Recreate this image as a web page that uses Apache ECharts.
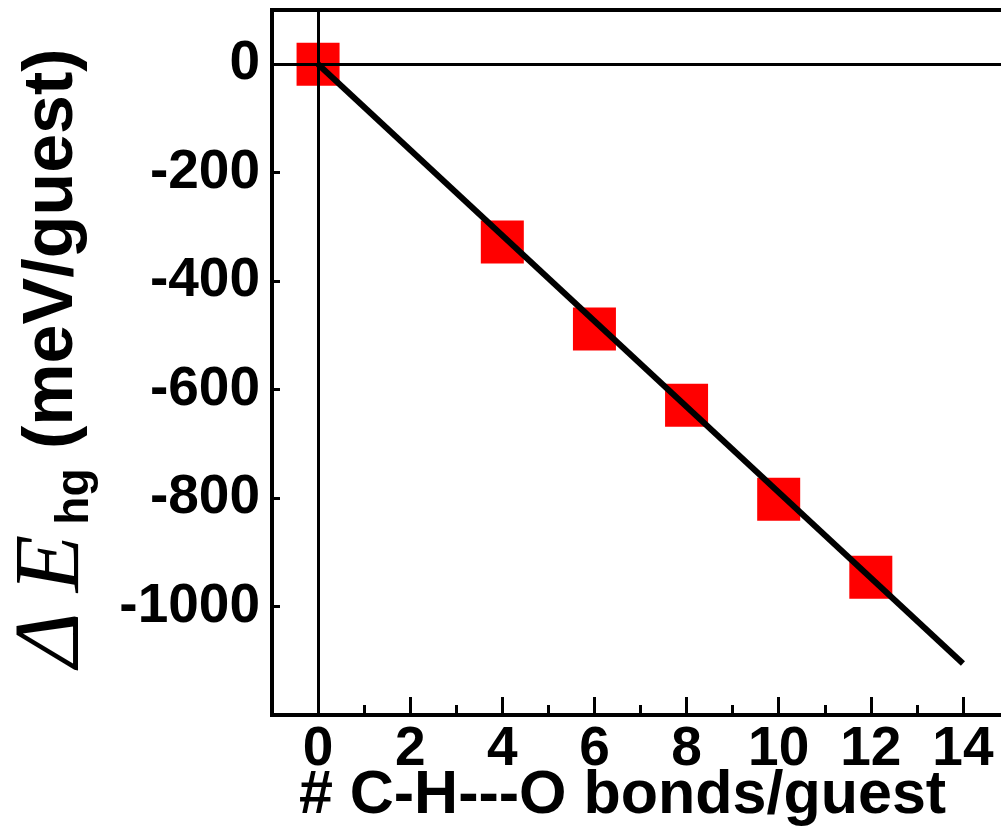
<!DOCTYPE html>
<html>
<head>
<meta charset="utf-8">
<title>ΔE_hg vs C-H---O bonds</title>
<script src="https://cdn.jsdelivr.net/npm/echarts@6/dist/echarts.min.js"></script>
<style>
html,body{margin:0;padding:0;overflow:hidden;background:#fff;}
</style>
</head>
<body>
<div id="main" style="width:1012px;height:826px;"></div>
<script>
// data
var bonds = [0, 4, 6, 8, 10, 12];
var energy = [0, -328, -488, -629, -802, -946];
// straight fit line
var fitX = [0, 14];
var fitY = [0, -1105];

var xTickLabels = [0, 2, 4, 6, 8, 10, 12, 14];
var xMinorTicks = [1, 3, 5, 7, 9, 11, 13];
var yTickLabels = [0, -200, -400, -600, -800, -1000];

var sans = '"Liberation Sans", Arial, sans-serif';
var serif = '"Liberation Serif", "Times New Roman", serif';

var chart = echarts.init(document.getElementById('main'));

var points = [];
for (var i = 0; i < bonds.length; i++) points.push([bonds[i], energy[i]]);
var fit = [];
for (var j = 0; j < fitX.length; j++) fit.push([fitX[j], fitY[j]]);

var gridTop = 10, gridBottom = 111;
var gridH = 826 - gridTop - gridBottom;

var option = {
    animation: false,
    grid: {
        left: 272, top: gridTop, right: 3, bottom: gridBottom,
        containLabel: false, outerBoundsMode: 'none',
        show: true, borderColor: '#000', borderWidth: 4, backgroundColor: 'transparent'
    },
    xAxis: [
        {
            type: 'value', min: -1, max: 15, position: 'bottom',
            axisLine: {onZero: false, lineStyle: {color: '#000', width: 4}},
            axisTick: {inside: true, length: 18, customValues: xTickLabels, lineStyle: {color: '#000', width: 3}},
            axisLabel: {customValues: xTickLabels, margin: 7, color: '#000', fontFamily: sans, fontWeight: 'bold', fontSize: 55},
            splitLine: {show: false},
            name: '# C-H---O bonds/guest',
            nameLocation: 'middle',
            nameMoveOverlap: false,
            nameGap: 51,
            nameTextStyle: {color: '#000', fontFamily: sans, fontWeight: 'bold', fontSize: 61, padding: [0, 36, 0, 0]}
        },
        {
            // minor ticks only, moved down onto the bottom edge
            type: 'value', min: -1, max: 15, position: 'top', offset: -gridH,
            axisLine: {show: false},
            axisTick: {inside: false, length: 10, customValues: xMinorTicks, lineStyle: {color: '#000', width: 3}},
            axisLabel: {show: false},
            splitLine: {show: false}
        }
    ],
    yAxis: {
        type: 'value', min: -1200, max: 100, interval: 200,
        axisLine: {onZero: false, lineStyle: {color: '#000', width: 4}},
        axisTick: {inside: true, length: 8, customValues: yTickLabels, lineStyle: {color: '#000', width: 3}},
        axisLabel: {
            customValues: yTickLabels, margin: 12, color: '#000',
            fontFamily: sans, fontWeight: 'bold', fontSize: 55,
            formatter: function (v) { return String(v); }
        },
        splitLine: {show: false},
        name: '{d|Δ}{e|E}{sub|hg}{u| (meV/guest)}',
        nameLocation: 'middle',
        nameMoveOverlap: false,
        nameRotate: 90,
        nameGap: 172,
        nameTextStyle: {
            color: '#000',
            rich: {
                d: {fontFamily: serif, fontStyle: 'italic', fontSize: 94, color: '#000', width: 74, align: 'center'},
                e: {fontFamily: serif, fontStyle: 'italic', fontSize: 94, color: '#000', width: 78, align: 'center'},
                sub: {fontFamily: sans, fontWeight: 'bold', fontSize: 46, color: '#000', padding: [44, 0, 0, 0]},
                u: {fontFamily: sans, fontWeight: 'bold', fontSize: 70, color: '#000'}
            }
        }
    },
    series: [
        {
            type: 'scatter',
            symbol: 'rect',
            symbolSize: 43,
            itemStyle: {color: '#ff0000', opacity: 1},
            data: points,
            z: 2
        },
        {
            type: 'line',
            showSymbol: false,
            lineStyle: {color: '#000', width: 6},
            data: fit,
            z: 3,
            markLine: {
                silent: true,
                symbol: 'none',
                label: {show: false},
                lineStyle: {color: '#000', width: 3, type: 'solid'},
                data: [{xAxis: 0}, {yAxis: 0}]
            }
        }
    ]
};

chart.setOption(option);
</script>
</body>
</html>
